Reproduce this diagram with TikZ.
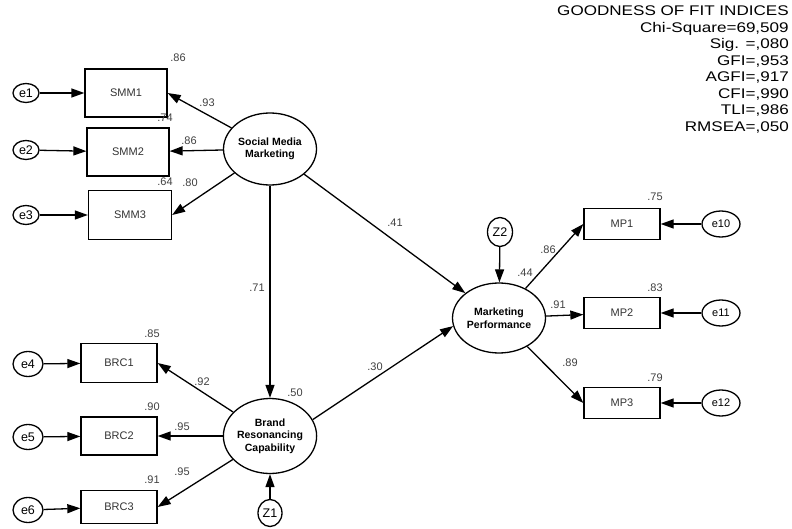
\documentclass[tikz,border=0pt]{standalone}
\usepackage{fontspec}
\setmainfont{Liberation Sans}
\usetikzlibrary{arrows.meta,positioning,shapes.geometric}

\begin{document}
\begin{tikzpicture}[x=1pt,y=-1pt,
        latent/.style={draw,ellipse,line width=1.3pt,inner sep=0pt,
            minimum width=93pt,minimum height=72pt,align=center,
            font=\fontsize{10.5}{12.5}\selectfont\bfseries},
        err/.style={draw,ellipse,line width=1.3pt,inner sep=0pt,
            minimum width=27pt,minimum height=21pt,font=\fontsize{12.5}{12}\selectfont},
        obs/.style={draw,rectangle,line width=1.3pt,inner sep=0pt,
            minimum width=76pt,text=black!80,font=\fontsize{11}{10}\selectfont},
        coef/.style={inner sep=0pt,text=black!75,font=\fontsize{11}{10}\selectfont},
        link/.style={line width=1.3pt,-{Triangle[length=13pt,width=9pt]}},
        gof/.style={inner sep=0pt,align=right,xscale=1.22,
            font=\fontsize{14}{16.5}\selectfont}]
    \useasboundingbox (0,0) rectangle (792,529);

    \node[latent] (smm) at (270,149) {Social Media\\Marketing};
    \node[latent,minimum width=91pt,minimum height=75pt] (brc) at (270,436) {Brand\\Resonancing\\Capability};
    \node[latent,minimum height=70pt] (mp) at (499,318) {Marketing\\Performance};

    \node[obs,minimum width=82pt,minimum height=48pt] (smm1) at (126,93) {SMM1};
    \node[obs,minimum width=82pt,minimum height=48pt] (smm2) at (128,152) {SMM2};
    \node[obs,minimum width=83pt,minimum height=49pt] (smm3) at (130,215) {SMM3};
    \node[obs,minimum height=39pt] (brc1) at (119,363) {BRC1};
    \node[obs,minimum height=38pt] (brc2) at (119,436) {BRC2};
    \node[obs,minimum height=33pt] (brc3) at (119,507) {BRC3};
    \node[obs,minimum height=31pt] (mp1) at (622,224) {MP1};
    \node[obs,minimum height=31pt] (mp2) at (622,313) {MP2};
    \node[obs,minimum height=31pt] (mp3) at (622,403) {MP3};

    \node[err,minimum width=26pt,minimum height=19pt] (e1) at (26,93) {e1};
    \node[err,minimum width=26pt,minimum height=19pt] (e2) at (26,150) {e2};
    \node[err,minimum width=26pt,minimum height=19pt] (e3) at (26,215) {e3};
    \node[err,minimum width=30pt,minimum height=25pt] (e4) at (28,364) {e4};
    \node[err,minimum width=30pt,minimum height=25pt] (e5) at (28,437) {e5};
    \node[err,minimum width=30pt,minimum height=25pt] (e6) at (28,510) {e6};
    \node[err,minimum width=38pt,minimum height=26pt,font=\fontsize{11}{10}\selectfont] (e10) at (721,224) {e10};
    \node[err,minimum width=38pt,minimum height=26pt,font=\fontsize{11}{10}\selectfont] (e11) at (721,313) {e11};
    \node[err,minimum width=38pt,minimum height=26pt,font=\fontsize{11}{10}\selectfont] (e12) at (721,403) {e12};
    \node[err,minimum width=24pt,minimum height=27pt] (z1) at (270,513) {Z1};
    \node[err,minimum width=25pt,minimum height=29pt] (z2) at (500,232) {Z2};

    \draw[link] (e1) -- (smm1);
    \draw[link] (e2) -- (smm2);
    \draw[link] (e3) -- (smm3);
    \draw[link] (e4) -- (brc1);
    \draw[link] (e5) -- (brc2);
    \draw[link] (e6) -- (brc3);
    \draw[link] (e10) -- (mp1);
    \draw[link] (e11) -- (mp2);
    \draw[link] (e12) -- (mp3);

    \draw[link] (smm) -- (smm1.east);
    \draw[link] (smm) -- (smm2);
    \draw[link] (smm) -- (smm3.east);
    \draw[link] (brc) -- (brc1.east);
    \draw[link] (brc) -- (brc2);
    \draw[link] (brc) -- (brc3.east);
    \draw[link] (mp) -- (mp1.west);
    \draw[link] (mp) -- (mp2);
    \draw[link] (mp) -- (mp3.west);

    \draw[link] (smm) -- (brc);
    \draw[link] (smm) -- (mp);
    \draw[link] (brc.21) -- (mp.190);
    \draw[link] (z1) -- (brc);
    \draw[link] (z2) -- (mp);

    \node[coef] (r1) at (178,58) {.86};
    \node[coef] (r2) at (165,118) {.74};
    \node[coef] (r3) at (165,182) {.64};
    \node[coef] (r4) at (152,334) {.85};
    \node[coef] (r5) at (152,407) {.90};
    \node[coef] (r6) at (152,480) {.91};
    \node[coef] (r7) at (655,197) {.75};
    \node[coef] (r8) at (655,288) {.83};
    \node[coef] (r9) at (655,378) {.79};
    \node[coef] (rbrc) at (295,393) {.50};
    \node[coef] (rmp) at (525,273) {.44};

    \node[coef] (l1) at (207,103) {.93};
    \node[coef] (l2) at (189,141) {.86};
    \node[coef] (l3) at (190,183) {.80};
    \node[coef] (l4) at (202,382) {.92};
    \node[coef] (l5) at (182,427) {.95};
    \node[coef] (l6) at (182,472) {.95};
    \node[coef] (l7) at (548,250) {.86};
    \node[coef] (l8) at (558,305) {.91};
    \node[coef] (l9) at (570,363) {.89};
    \node[coef] (b1) at (257,288) {.71};
    \node[coef] (b2) at (395,223) {.41};
    \node[coef] (b3) at (375,367) {.30};

    \node[gof,anchor=north east] (fit) at (789,6) {GOODNESS OF FIT INDICES\\
        Chi-Square=69,509\\Sig. =,080\\GFI=,953\\AGFI=,917\\CFI=,990\\TLI=,986\\RMSEA=,050};
\end{tikzpicture}
\end{document}
